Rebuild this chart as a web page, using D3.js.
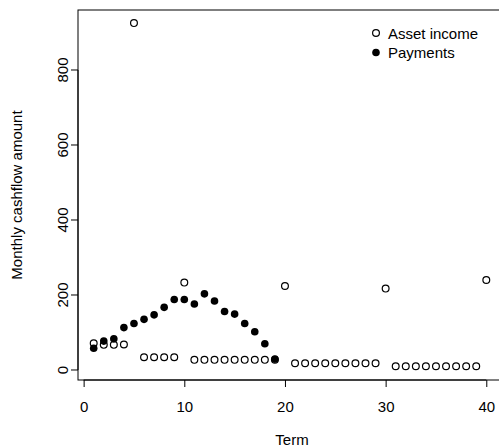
<!DOCTYPE html>
<html>
<head>
<meta charset="utf-8">
<script src="https://cdn.jsdelivr.net/npm/d3@7"></script>
<style>
  html, body { margin: 0; padding: 0; background: #fff; }
  svg { display: block; font-family: "Liberation Sans", Arial, sans-serif; }
</style>
</head>
<body>
<script>
// Monthly cashflows by term
const terms = d3.range(1, 41);
const assetIncome = [71, 67, 67, 68, 925, 34, 34, 34, 34, 233,
                     27, 27, 27, 27, 27, 27, 27, 27, 27, 224,
                     18, 18, 18, 18, 18, 18, 18, 18, 18, 217,
                     10, 10, 10, 10, 10, 10, 10, 10, 10, 240];
const paymentTerms = d3.range(1, 20);
const payments = [58, 77, 83, 113, 124, 135, 147, 167, 188, 188,
                  176, 203, 184, 156, 149, 124, 102, 70, 29];
const xTicks = [0, 10, 20, 30, 40];
const yTicks = [0, 200, 400, 600, 800];
const seriesNames = ["Asset income", "Payments"];

const W = 499, H = 448;
const FS = 15;
const box = { left: 78, right: 502, top: 10, bottom: 380 };

const svg = d3.select("body").append("svg").attr("width", W).attr("height", H);

const x = d3.scaleLinear().domain([-0.56, 41.56]).range([box.left, box.right]);
const y = d3.scaleLinear().domain([-26.7, 960]).range([box.bottom, box.top]);

// frame
svg.append("rect")
  .attr("x", box.left).attr("y", box.top)
  .attr("width", box.right - box.left).attr("height", box.bottom - box.top)
  .attr("fill", "none").attr("stroke", "#000").attr("stroke-width", 1);

// x axis
const xAxis = svg.append("g")
  .attr("transform", `translate(0,${box.bottom})`)
  .call(d3.axisBottom(x).tickValues(xTicks).tickSize(7).tickPadding(14).tickSizeOuter(0));
xAxis.select(".domain").attr("d", `M${x(0)},0H${x(40)}`);
xAxis.selectAll("text").attr("font-size", FS).attr("fill", "#000")
  .attr("font-family", "Liberation Sans, Arial, sans-serif");

// y axis with rotated labels
const yAxis = svg.append("g")
  .attr("transform", `translate(${box.left},0)`)
  .call(d3.axisLeft(y).tickValues(yTicks).tickSize(7).tickSizeOuter(0));
yAxis.select(".domain").attr("d", `M0,${y(0)}V${y(800)}`);
yAxis.selectAll("text")
  .attr("font-size", FS).attr("fill", "#000")
  .attr("font-family", "Liberation Sans, Arial, sans-serif")
  .attr("text-anchor", "middle")
  .attr("dy", null).attr("x", null)
  .attr("transform", d => `translate(-10,${y(d)}) rotate(-90)`)
  .attr("y", 0);
yAxis.selectAll(".tick").attr("transform", null);
yAxis.selectAll(".tick line").attr("y1", d => y(d)).attr("y2", d => y(d));

// axis titles
svg.append("text")
  .attr("x", (box.left + box.right) / 2 + 2).attr("y", 445)
  .attr("text-anchor", "middle").attr("font-size", FS).text("Term");
svg.append("text")
  .attr("transform", `translate(22,${(box.top + box.bottom) / 2}) rotate(-90)`)
  .attr("text-anchor", "middle").attr("font-size", FS).text("Monthly cashflow amount");

const plot = svg.append("g");

// asset income: open circles
plot.selectAll("circle.asset")
  .data(terms.map((t, i) => [t, assetIncome[i]]))
  .join("circle").attr("class", "asset")
  .attr("cx", d => x(d[0])).attr("cy", d => y(d[1])).attr("r", 3.4)
  .attr("fill", "none").attr("stroke", "#000").attr("stroke-width", 1.2);

// payments: filled circles
plot.selectAll("circle.pay")
  .data(paymentTerms.map((t, i) => [t, payments[i]]))
  .join("circle").attr("class", "pay")
  .attr("cx", d => x(d[0])).attr("cy", d => y(d[1])).attr("r", 3.8)
  .attr("fill", "#000");

// legend
const legend = svg.append("g");
seriesNames.forEach((name, i) => {
  const ly = 33 + i * 19.5;
  legend.append("circle").attr("cx", 376).attr("cy", ly)
    .attr("r", i === 0 ? 3.4 : 3.8)
    .attr("fill", i === 0 ? "none" : "#000")
    .attr("stroke", i === 0 ? "#000" : "none").attr("stroke-width", 1.2);
  legend.append("text").attr("x", 388).attr("y", ly + 5.5)
    .attr("font-size", FS).text(name);
});
</script>
</body>
</html>
